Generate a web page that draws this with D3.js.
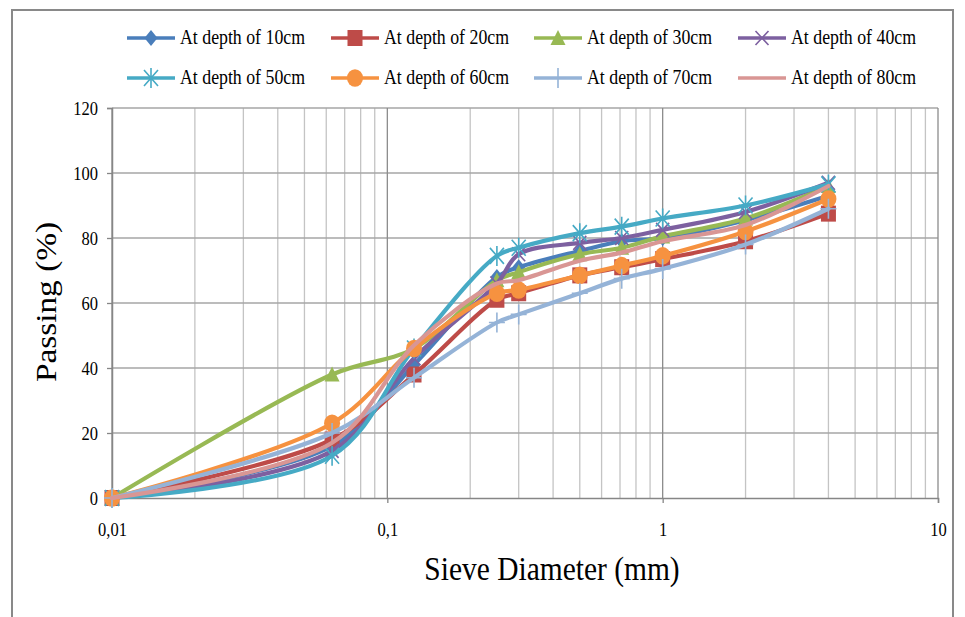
<!DOCTYPE html>
<html>
<head>
<meta charset="utf-8">
<script src="https://cdn.jsdelivr.net/npm/d3@7"></script>
<style>
  body { margin: 0; background: #fff; }
  svg { display: block; font-family: "Liberation Serif", "Times New Roman", serif; }
</style>
</head>
<body>
<div id="chart"></div>
<script>
// sieve sizes (mm) and passing (%) per depth
const sieve = [0.01, 0.063, 0.125, 0.25, 0.3, 0.5, 0.71, 1, 2, 4];
const depth10 = [0, 16, 41, 68, 71, 76, 79, 80, 85.5, 93];
const depth20 = [0, 18, 38, 61, 63, 68.5, 71, 73.5, 79, 87.5];
const depth30 = [0, 38, 46, 67, 69.5, 75, 77, 80.5, 86, 96];
const depth40 = [0, 14.5, 43, 66, 75, 78.5, 80, 82.5, 88, 97];
const depth50 = [0, 13, 46, 74.5, 77, 81.5, 83.5, 86, 90, 96.5];
const depth60 = [0, 23, 46, 63, 64, 68.5, 71.5, 74.5, 82, 92];
const depth70 = [0, 20, 37, 54, 56.5, 63, 67.5, 70.5, 78, 89];
const depth80 = [0, 17, 47, 66, 67, 73, 75.5, 79, 84, 96];
const seriesNames = ['At depth of 10cm', 'At depth of 20cm', 'At depth of 30cm', 'At depth of 40cm',
  'At depth of 50cm', 'At depth of 60cm', 'At depth of 70cm', 'At depth of 80cm'];
const xTicks = [0.01, 0.1, 1, 10];
const xTickLabels = ['0,01', '0,1', '1', '10'];
const yTicks = [0, 20, 40, 60, 80, 100, 120];

const allSeries = [depth10, depth20, depth30, depth40, depth50, depth60, depth70, depth80];
const colors = ['#4A7EBB', '#BE4B48', '#98B954', '#7D60A0', '#46AAC5', '#F69240', '#95B3D7', '#D99694'];
const markers = ['diamond', 'square', 'triangle', 'x', 'star', 'circle', 'plus', 'none'];

const W = 965, H = 617;
const SY = 1.15; // text in the original is drawn a bit taller than wide
const svg = d3.select('#chart').append('svg').attr('width', W).attr('height', H);

// outer frame
svg.append('rect').attr('x', 12).attr('y', 10).attr('width', 941).attr('height', 620)
  .attr('fill', 'none').attr('stroke', '#898989').attr('stroke-width', 2);

const x = d3.scaleLog().domain([0.01, 10]).range([112, 938]);
const y = d3.scaleLinear().domain([0, 120]).range([498, 108]);

// minor vertical gridlines
const minor = [];
[0.01, 0.1, 1].forEach(d => { for (let k = 2; k <= 9; k++) minor.push(d * k); });
svg.append('g').selectAll('line').data(minor).join('line')
  .attr('x1', d => x(d)).attr('x2', d => x(d))
  .attr('y1', y(120)).attr('y2', y(0))
  .attr('stroke', '#c4c4c4').attr('stroke-width', 1.3);

// horizontal gridlines
svg.append('g').selectAll('line').data(yTicks.slice(1)).join('line')
  .attr('x1', x(0.01)).attr('x2', x(10))
  .attr('y1', d => y(d)).attr('y2', d => y(d))
  .attr('stroke', '#a6a6a6').attr('stroke-width', 1.3);

// major vertical gridlines
svg.append('g').selectAll('line').data(xTicks).join('line')
  .attr('x1', d => x(d)).attr('x2', d => x(d))
  .attr('y1', y(120)).attr('y2', y(0))
  .attr('stroke', '#8c8c8c').attr('stroke-width', 1.3);

// axes
const yAxis = svg.append('g').attr('transform', `translate(${x(0.01)},0)`)
  .call(d3.axisLeft(y).tickValues(yTicks).tickSize(5).tickPadding(9));
const xAxis = svg.append('g').attr('transform', `translate(0,${y(0)})`)
  .call(d3.axisBottom(x).tickValues(xTicks).tickFormat((d, i) => xTickLabels[i]).tickSize(5).tickPadding(20));
[yAxis, xAxis].forEach(a => {
  a.select('.domain').attr('stroke', '#868686').attr('stroke-width', 1.5);
  a.selectAll('.tick line').attr('stroke', '#868686').attr('stroke-width', 1.3);
  a.selectAll('.tick text').attr('fill', '#000').style('font-size', '16.5px')
    .style('font-family', '"Liberation Serif", serif')
    .attr('transform', `scale(1,${SY})`)
    .attr('y', function() { return +d3.select(this).attr('y') / SY; });
});
// recentre y labels after the vertical stretch
yAxis.selectAll('.tick').each(function(d) {
  d3.select(this).select('text').attr('transform', `translate(0,0) scale(1,${SY})`).attr('dy', '0.32em');
});

// axis titles
svg.append('text').attr('transform', `translate(56,302) rotate(-90) scale(${SY},1)`)
  .attr('text-anchor', 'middle').style('font-size', '29px').text('Passing (%)');
svg.append('text').attr('transform', `translate(552,580) scale(1,${SY})`)
  .attr('text-anchor', 'middle').style('font-size', '29.5px').text('Sieve Diameter (mm)');

function drawMarker(g, type, color, cx, cy) {
  const sw = 1.6;
  if (type === 'diamond') {
    g.append('path').attr('d', `M${cx},${cy - 8}L${cx + 6.5},${cy}L${cx},${cy + 8}L${cx - 6.5},${cy}Z`).attr('fill', color);
  } else if (type === 'square') {
    g.append('rect').attr('x', cx - 7.5).attr('y', cy - 8).attr('width', 15).attr('height', 16).attr('fill', color);
  } else if (type === 'triangle') {
    g.append('path').attr('d', `M${cx},${cy - 8}L${cx + 7.5},${cy + 7}L${cx - 7.5},${cy + 7}Z`).attr('fill', color);
  } else if (type === 'x') {
    g.append('path').attr('d', `M${cx - 6.5},${cy - 7}L${cx + 6.5},${cy + 7}M${cx - 6.5},${cy + 7}L${cx + 6.5},${cy - 7}`)
      .attr('stroke', color).attr('stroke-width', sw);
  } else if (type === 'star') {
    g.append('path').attr('d', `M${cx - 7},${cy - 8}L${cx + 7},${cy + 8}M${cx - 7},${cy + 8}L${cx + 7},${cy - 8}M${cx},${cy - 10}L${cx},${cy + 10}`)
      .attr('stroke', color).attr('stroke-width', sw);
  } else if (type === 'circle') {
    g.append('ellipse').attr('cx', cx).attr('cy', cy).attr('rx', 8).attr('ry', 8.8).attr('fill', color);
  } else if (type === 'plus') {
    g.append('path').attr('d', `M${cx - 8},${cy}L${cx + 8},${cy}M${cx},${cy - 10}L${cx},${cy + 10}`)
      .attr('stroke', color).attr('stroke-width', sw);
  }
}

// series
const line = d3.line().x(d => x(d[0])).y(d => y(d[1])).curve(d3.curveCatmullRom.alpha(0.5));
allSeries.forEach((vals, i) => {
  const g = svg.append('g');
  const pts = sieve.map((s, j) => [s, vals[j]]);
  g.append('path').datum(pts).attr('d', line)
    .attr('fill', 'none').attr('stroke', colors[i]).attr('stroke-width', 4.2)
    .attr('stroke-linejoin', 'round').attr('stroke-linecap', 'round');
  pts.forEach(p => drawMarker(g, markers[i], colors[i], x(p[0]), y(p[1])));
});

// legend
const legendCols = [127, 331, 534, 738];
const legendRows = [38, 78];
seriesNames.forEach((name, i) => {
  const lx = legendCols[i % 4], ly = legendRows[Math.floor(i / 4)];
  const g = svg.append('g');
  g.append('line').attr('x1', lx).attr('x2', lx + 48).attr('y1', ly).attr('y2', ly)
    .attr('stroke', colors[i]).attr('stroke-width', 3.5);
  drawMarker(g, markers[i], colors[i], lx + 24, ly);
  g.append('text').attr('transform', `translate(${lx + 53},${ly + 6}) scale(1,${SY})`)
    .style('font-size', '17.8px').text(name);
});
</script>
</body>
</html>
